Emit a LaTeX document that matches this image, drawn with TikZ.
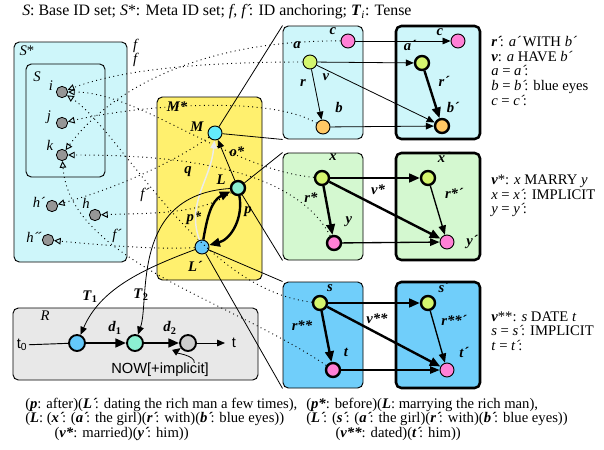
\documentclass[tikz,border=0pt]{standalone}
\usepackage{fontspec}
\setmainfont{Liberation Serif}
\setsansfont{Liberation Sans}
\usetikzlibrary{arrows.meta,fit}
\definecolor{skyfill}{RGB}{206,246,250}
\definecolor{mfill}{RGB}{255,240,110}
\definecolor{grnfill}{RGB}{212,248,208}
\definecolor{bluefill}{RGB}{112,206,250}
\definecolor{rfill}{RGB}{232,232,232}
\definecolor{limec}{RGB}{212,245,110}
\definecolor{pinkc}{RGB}{255,128,214}
\definecolor{orangec}{RGB}{255,200,100}
\definecolor{mcol}{RGB}{100,236,250}
\definecolor{lcol}{RGB}{140,240,210}
\definecolor{lpcol}{RGB}{100,200,250}
\definecolor{idgray}{RGB}{150,150,150}
\definecolor{nowgray}{RGB}{205,205,205}
\definecolor{qgray}{RGB}{236,236,236}
\newcommand{\bi}[1]{\textbf{\textit{#1}}}
\newcommand{\pr}{\rlap{´}\kern0.2em}
\newcommand{\figfont}{\fontsize{11}{10.9}\selectfont}
\tikzset{
  idfig/.style={x=0.75pt,y=-0.75pt,font=\figfont},
  grpbox/.style={draw,rounded corners=4pt,inner sep=0pt,line width=0.7pt},
  primebox/.style={grpbox,line width=1.9pt},
  idnode/.style={circle,draw,fill=idgray,minimum size=8.5pt,inner sep=0pt,line width=0.6pt},
  evnode/.style={circle,draw,minimum size=10.5pt,inner sep=0pt,line width=0.7pt},
  thicknode/.style={evnode,line width=1.8pt},
  timenode/.style={circle,draw,minimum size=12pt,inner sep=0pt,line width=1.4pt},
  lab/.style={inner sep=1pt},
  anchorln/.style={dash pattern=on 0.7pt off 2.6pt,line width=0.7pt,
    -{Triangle[open,length=5pt,width=5pt]}},
  thinarr/.style={line width=0.6pt,-{Triangle[length=6pt,width=5pt]}},
  midarr/.style={line width=1pt,-{Triangle[length=7pt,width=5.5pt]}},
  boldarr/.style={line width=1.8pt,-{Triangle[length=8pt,width=6.5pt]}},
  zoomln/.style={line width=0.6pt},
  gloss/.style={align=left,anchor=west,inner sep=0pt,font=\figfont},
}
\begin{document}
\figfont
\begin{tikzpicture}[idfig]
  \useasboundingbox (0,0) rectangle (604,450);
  \node[anchor=west,inner sep=0pt,font=\fontsize{11.9}{12}\selectfont] (title) at (22,12)
    {\textit{S}: Base ID set; \textit{S}*: Meta ID set; \textit{f}, \textit{f\pr}: ID anchoring; \bi{T}\textsubscript{\textit{i}}: Tense};

  % groups
  \node[grpbox,fill=skyfill,fit={(14,42)(127,262)}] (Sstar) {};
  \node[grpbox,fill=skyfill,fit={(26,64)(105,177)}] (Sbase) {};
  \node[grpbox,fill=mfill,fit={(157,97)(262,280)}] (Mstar) {};
  \node[grpbox,fill=rfill,fit={(13,308)(258,380)}] (Rbox) {};
  \node[grpbox,fill=skyfill,fit={(283,26)(363,139)}] (boxA) {};
  \node[primebox,fill=skyfill,fit={(396,26)(480,139)}] (boxAp) {};
  \node[grpbox,fill=grnfill,fit={(283,153)(363,260)}] (boxB) {};
  \node[primebox,fill=grnfill,fit={(396,153)(480,260)}] (boxBp) {};
  \node[grpbox,fill=bluefill,fit={(283,282)(363,388)}] (boxC) {};
  \node[primebox,fill=bluefill,fit={(396,282)(480,388)}] (boxCp) {};
  \node[lab] (lSstar) at (27,51) {\textit{S}*};
  \node[lab] (lSbase) at (37,77) {\textit{S}};
  \node[lab] (lMstar) at (177,107) {\bi{M*}};
  \node[lab] (lR) at (45,316) {\textit{R}};

  % base and meta IDs
  \node[idnode] (i) at (62,92) {};
  \node[idnode] (j) at (62,123) {};
  \node[idnode] (k) at (62,155) {};
  \node[idnode] (hp) at (52,206) {};
  \node[idnode] (h) at (95,215) {};
  \node[idnode] (hpp) at (48,240) {};
  \node[lab] (li) at (51,86) {\textit{i}};
  \node[lab] (lj) at (49,117) {\textit{j}};
  \node[lab] (lk) at (50,145) {\textit{k}};
  \node[lab] (lhp) at (38,202) {\textit{h\pr}};
  \node[lab] (lh) at (86,203) {\textit{h}};
  \node[lab] (lhpp) at (33,237) {\textit{h\pr\pr}};

  % M*
  \node[evnode,fill=mcol] (M) at (215,133) {};
  \node[thicknode,fill=lcol] (L) at (238,188) {};
  \node[evnode,fill=lpcol] (Lp) at (202,247) {};
  \node[lab] (lM) at (197,127) {\bi{M}};
  \node[lab] (lL) at (221,180) {\bi{L}};
  \node[lab] (lLp) at (194,266) {\bi{L\pr}};
  \node[lab] (lostar) at (237,152) {\bi{o*}};
  \node[lab] (lq) at (188,172) {\bi{q}};
  \node[lab] (lpstar) at (194,218) {\bi{p*}};
  \node[lab] (lp) at (248,212) {\bi{p}};

  % top pair
  \node[evnode,fill=pinkc] (c) at (348,41) {};
  \node[evnode,fill=limec] (a) at (310,62) {};
  \node[evnode,fill=orangec] (b) at (323,127) {};
  \node[evnode,fill=pinkc] (cp) at (458,41) {};
  \node[thicknode,fill=limec] (ap) at (422,63) {};
  \node[thicknode,fill=orangec] (bp) at (442,126) {};
  \node[lab] (lc) at (333,31) {\bi{c}};
  \node[lab] (la) at (297,45) {\bi{a}};
  \node[lab] (lr) at (303,83) {\bi{r}};
  \node[lab] (lb) at (339,107) {\bi{b}};
  \node[lab] (lv) at (326,77) {\bi{v}};
  \node[lab] (lcp) at (440,32) {\bi{c}};
  \node[lab] (lap) at (409,45) {\bi{a\pr}};
  \node[lab] (lrp) at (443,81) {\bi{r\pr}};
  \node[lab] (lbp) at (452,107) {\bi{b\pr}};

  % middle pair
  \node[thicknode,fill=limec] (x) at (322,178) {};
  \node[thicknode,fill=pinkc] (y) at (334,243) {};
  \node[thicknode,fill=limec] (xp) at (428,178) {};
  \node[evnode,fill=pinkc] (yp) at (447,242) {};
  \node[lab] (lx) at (333,157) {\bi{x}};
  \node[lab] (lrs) at (311,198) {\bi{r*}};
  \node[lab] (ly) at (349,222) {\bi{y}};
  \node[lab] (lvs) at (378,190) {\bi{v*}};
  \node[lab] (lxp) at (443,157) {\bi{x\pr}};
  \node[lab] (lrsp) at (453,193) {\bi{r*\pr}};
  \node[lab] (lyp) at (471,242) {\bi{y\pr}};

  % bottom pair
  \node[thicknode,fill=limec] (s) at (320,303) {};
  \node[thicknode,fill=pinkc] (t) at (333,370) {};
  \node[thicknode,fill=limec] (sp) at (428,303) {};
  \node[evnode,fill=pinkc] (tp) at (447,370) {};
  \node[lab] (ls) at (330,288) {\bi{s}};
  \node[lab] (lrss) at (302,326) {\bi{r**}};
  \node[lab] (lt) at (346,352) {\bi{t}};
  \node[lab] (lvss) at (377,319) {\bi{v**}};
  \node[lab] (lsp) at (443,287) {\bi{s\pr}};
  \node[lab] (lrssp) at (453,320) {\bi{r**\pr}};
  \node[lab] (ltp) at (463,352) {\bi{t\pr}};

  % R
  \node[lab] (t0) at (22,345) {\sffamily t\textsubscript{0}};
  \node[timenode,fill=lpcol] (r1) at (77,343) {};
  \node[timenode,fill=lcol] (r2) at (135,343) {};
  \node[timenode,fill=nowgray] (r3) at (188,343) {};
  \coordinate (tend) at (225,343);
  \node[lab] (ltend) at (234,343) {\sffamily t};
  \node[lab] (ld1) at (115,328) {\bi{d}\textsubscript{\textbf{1}}};
  \node[lab] (ld2) at (170,328) {\bi{d}\textsubscript{\textbf{2}}};
  \node[lab] (now) at (160,370) {\sffamily NOW[+implicit]};
  \node[lab] (lT1) at (90,297) {\bi{T}\textsubscript{\textbf{1}}};
  \node[lab] (lT2) at (141,295) {\bi{T}\textsubscript{\textbf{2}}};

  % ID anchoring
  \node[lab] (f1) at (136,46) {\textit{f}};
  \node[lab] (f2) at (136,60) {\textit{f}};
  \node[lab] (fp1) at (144,195) {\textit{f\pr}};
  \node[lab] (fp2) at (116,236) {\textit{f\pr}};
  \draw[anchorln] (c) .. controls (200,40) and (110,90) .. (k);
  \draw[anchorln] (a) .. controls (200,62) and (120,70) .. (i);
  \draw[anchorln] (x) .. controls (230,170) and (140,92) .. (i);
  \draw[anchorln] (s) .. controls (200,290) and (120,130) .. (i);
  \draw[anchorln] (b) .. controls (270,95) and (140,105) .. (j);
  \draw[anchorln] (y) .. controls (290,160) and (150,155) .. (k);
  \draw[anchorln] (t) .. controls (230,300) and (70,260) .. (k);
  \draw[anchorln] (M) .. controls (170,165) and (110,190) .. (hp);
  \draw[anchorln] (L) .. controls (200,215) and (150,213) .. (h);
  \draw[anchorln] (Lp) .. controls (160,250) and (100,245) .. (hpp);

  % zoom lines
  \draw[zoomln] (M) -- (boxA.north west);
  \draw[zoomln] (M) -- (boxA.south west);
  \draw[zoomln] (L) -- (boxB.north west);
  \draw[zoomln] (L) -- (boxB.south west);
  \draw[zoomln] (Lp) -- (boxC.north west);
  \draw[zoomln] (Lp) -- (boxC.south west);

  % M* relations
  \draw[thinarr] (L) -- (M);
  \draw[line width=1.1pt,draw=qgray,-{Triangle[length=6pt,width=5pt,fill=qgray]}]
    (Lp) to[out=110,in=265] (M);
  \draw[boldarr] (Lp) to[out=80,in=205] (L);
  \draw[boldarr] (L) to[out=-80,in=15] (Lp);

  % tense
  \draw[line width=0.7pt] (t0) -- (r1);
  \draw[boldarr] (r1) -- (r2);
  \draw[boldarr] (r2) -- (r3);
  \draw[thinarr] (r3) -- (tend);
  \draw[thinarr] (now.north east) ++(-12pt,-1pt) to[out=80,in=215] (r3);
  \draw[thinarr] (Lp) .. controls (140,270) and (100,290) .. (r1);
  \draw[thinarr] (L) .. controls (130,195) and (150,300) .. (r2);

  % top pair relations
  \draw[thinarr] (c) -- (cp);
  \draw[thinarr] (a) -- (ap);
  \draw[thinarr] (a) -- (bp);
  \draw[thinarr] (b) -- (bp);
  \draw[thinarr] (a) -- (b);
  \draw[boldarr] (ap) -- (bp);

  % middle pair relations
  \draw[boldarr] (x) -- (xp);
  \draw[boldarr] (x) -- (yp);
  \draw[boldarr] (x) -- (y);
  \draw[midarr] (y) -- (yp);
  \draw[midarr] (xp) -- (yp);

  % bottom pair relations
  \draw[boldarr] (s) -- (sp);
  \draw[boldarr] (s) -- (tp);
  \draw[boldarr] (s) -- (t);
  \draw[midarr] (t) -- (tp);
  \draw[midarr] (sp) -- (tp);

  % glosses
  \node[gloss] (gA) at (491,71)
    {\bi{r\pr}: \textit{a\pr} WITH \textit{b\pr}\\ \bi{v}: \textit{a} HAVE \textit{b\pr}\\
     \textit{a} = \textit{a\pr}:\\ \textit{b} = \textit{b\pr}: blue eyes\\ \textit{c} = \textit{c\pr}:};
  \node[gloss] (gB) at (491,196)
    {\bi{v}*: \textit{x} MARRY \textit{y}\\ \textit{x} = \textit{x\pr}: IMPLICIT\\ \textit{y} = \textit{y\pr}:};
  \node[gloss] (gC) at (491,331)
    {\bi{v}**: \textit{s} DATE \textit{t}\\ \textit{s} = \textit{s\pr}: IMPLICIT\\ \textit{t} = \textit{t\pr}:};
  \node[gloss] (paraL) at (25,419)
    {(\bi{p}: after)(\bi{L\pr}: dating the rich man a few times),\\
     (\bi{L}: (\bi{x\pr}: (\bi{a\pr}: the girl)(\bi{r\pr}: with)(\bi{b\pr}: blue eyes))\\
     \hspace*{22pt}(\bi{v*}: married)(\bi{y\pr}: him))};
  \node[gloss] (paraR) at (306,419)
    {(\bi{p*}: before)(\bi{L}: marrying the rich man),\\
     (\bi{L\pr}: (\bi{s\pr}: (\bi{a\pr}: the girl)(\bi{r\pr}: with)(\bi{b\pr}: blue eyes))\\
     \hspace*{22pt}(\bi{v**}: dated)(\bi{t\pr}: him))};
\end{tikzpicture}
\end{document}
